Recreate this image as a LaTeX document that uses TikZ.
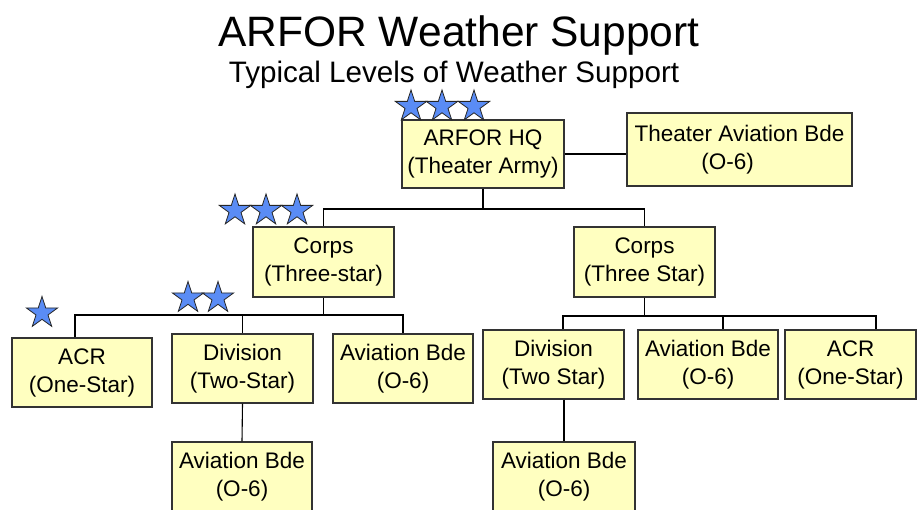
\documentclass[tikz,border=0pt]{standalone}
\usepackage{fontspec}
\setmainfont{Liberation Sans}
\usetikzlibrary{shapes.geometric}
\definecolor{boxfill}{RGB}{255,255,192}
\definecolor{starblue}{RGB}{90,140,245}
\tikzset{
  box/.style={draw=black!80, line width=1.1pt, fill=boxfill, inner sep=0pt, align=center,
    font=\fontsize{22.5}{28}\selectfont},
  bstar/.style={star, star points=5, star point ratio=2.618, draw=black!85, line width=0.8pt,
    fill=starblue, inner sep=0pt, minimum size=33pt},
  conn/.style={draw=black, line width=1.1pt},
}
\begin{document}
\begin{tikzpicture}[x=1pt,y=-1pt]
\useasboundingbox (0,0) rectangle (917,510);
% titles
\node[anchor=base, inner sep=0pt, font=\fontsize{42.5}{50}\selectfont] (title) at (459,47) {ARFOR Weather Support};
\node[anchor=base, inner sep=0pt, font=\fontsize{29.6}{35}\selectfont] (subtitle) at (454,83) {Typical Levels of Weather Support};
% boxes
\node[box, minimum width=162pt, minimum height=68pt] (hq) at (483,154) {ARFOR HQ\\(Theater Army)};
\node[box, minimum width=225pt, minimum height=73pt] (tab) at (739.5,149.5) {Theater Aviation Bde\\\hspace*{-24pt}(O-6)};
\node[box, minimum width=141pt, minimum height=70pt] (corpsL) at (323.5,262) {Corps\\(Three-star)};
\node[box, minimum width=141pt, minimum height=70pt] (corpsR) at (644.5,262) {Corps\\(Three Star)};
\node[box, minimum width=140pt, minimum height=69pt] (acrL) at (82,372.5) {ACR\\(One-Star)};
\node[box, minimum width=141pt, minimum height=69pt] (divL) at (242.5,368.5) {Division\\(Two-Star)};
\node[box, minimum width=140pt, minimum height=69pt] (avL) at (403,368.5) {Aviation Bde\\(O-6)};
\node[box, minimum width=141pt, minimum height=69pt] (divR) at (553.5,364.5) {Division\\(Two Star)};
\node[box, minimum width=140pt, minimum height=69pt] (avR) at (708,364.5) {Aviation Bde\\(O-6)};
\node[box, minimum width=131pt, minimum height=69pt] (acrR) at (850.5,364.5) {ACR\\(One-Star)};
\node[box, minimum width=140pt, minimum height=70pt] (avLL) at (242,477) {Aviation Bde\\(O-6)};
\node[box, minimum width=142pt, minimum height=70pt] (avRR) at (564,477) {Aviation Bde\\(O-6)};
% bus points
\coordinate (b1) at (483,209);
\coordinate (bL) at (323.5,315);
\coordinate (bR) at (644.5,316);
% connectors
\draw[conn] (hq.east) -- (hq.east -| tab.west);
\draw[conn] (hq.south) -- (b1);
\draw[conn] (corpsL.north) |- (b1) -| (corpsR.north);
\draw[conn] (corpsL.south) -- (bL);
\draw[conn] ([xshift=-7pt]acrL.north) |- (bL) -| (avL.north);
\draw[conn] (bL) -| (divL.north);
\draw[conn] (corpsR.south) -- (bR);
\draw[conn] ([xshift=9.5pt]divR.north) |- (bR) -| ([xshift=25.5pt]acrR.north);
\draw[conn] (bR) -| ([xshift=15pt]avR.north);
\draw[conn] (divL.south) -- (avLL.north);
\draw[conn] (divR.south -| avRR.north) -- (avRR.north);
% stars
\node[bstar] (s1) at (411,106.5) {};
\node[bstar] (s2) at (442,106.5) {};
\node[bstar] (s3) at (474,106.5) {};
\node[bstar] (s4) at (235,210.5) {};
\node[bstar] (s5) at (266,210.5) {};
\node[bstar] (s6) at (297,210.5) {};
\node[bstar] (s7) at (188,298) {};
\node[bstar] (s8) at (218,298) {};
\node[bstar] (s9) at (42,313) {};
\end{tikzpicture}
\end{document}
